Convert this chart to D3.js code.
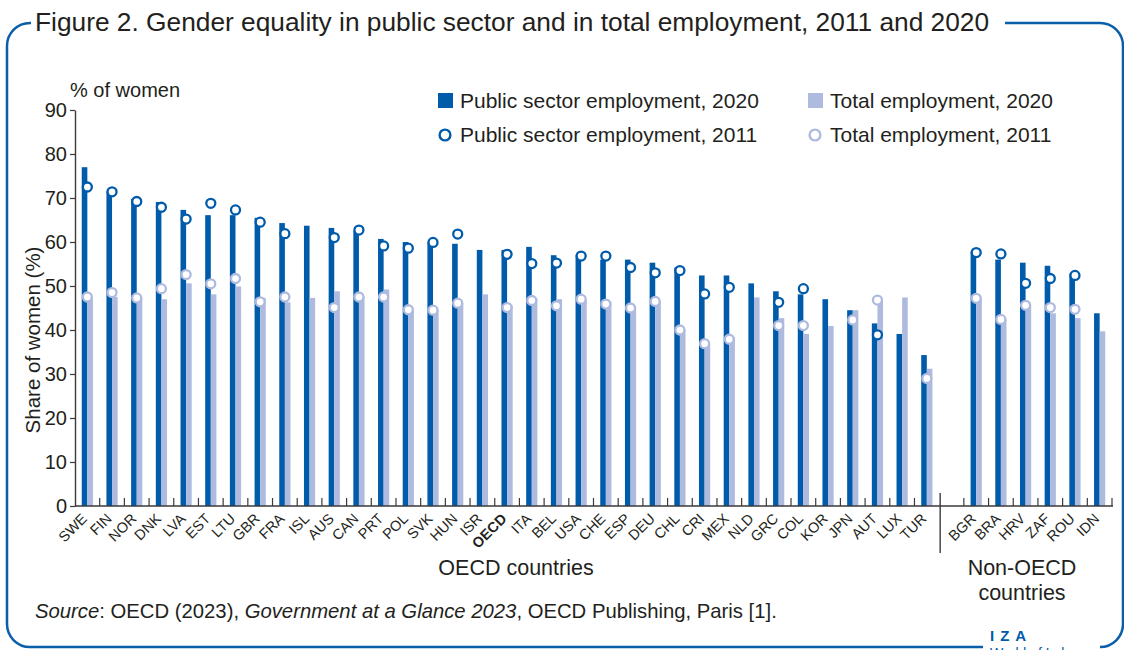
<!DOCTYPE html>
<html>
<head>
<meta charset="utf-8">
<script src="https://cdn.jsdelivr.net/npm/d3@7"></script>
<style>
  body { margin: 0; background: #ffffff; }
  svg { display: block; font-family: "Liberation Sans", Arial, sans-serif; }
</style>
</head>
<body>
<div class="chart"></div>
<script>
// DATA
const OECD_COUNTRIES = ["SWE","FIN","NOR","DNK","LVA","EST","LTU","GBR","FRA","ISL","AUS","CAN","PRT","POL","SVK","HUN","ISR","OECD","ITA","BEL","USA","CHE","ESP","DEU","CHL","CRI","MEX","NLD","GRC","COL","KOR","JPN","AUT","LUX","TUR"];
const NON_OECD_COUNTRIES = ["BGR","BRA","HRV","ZAF","ROU","IDN"];

// values follow OECD_COUNTRIES then NON_OECD_COUNTRIES
const PUBLIC_2020 = [77.0,71.5,69.8,69.1,67.3,66.1,66.1,65.5,64.3,63.7,63.2,62.5,60.7,60.0,60.0,59.6,58.2,58.2,58.9,57.0,57.0,56.0,56.0,55.3,54.2,52.4,52.4,50.6,48.8,48.1,47.0,44.5,41.5,39.1,34.3,
                     57.8,56.0,55.3,54.6,52.8,43.8];
const TOTAL_2020 = [47.3,47.5,47.3,47.0,50.6,48.1,49.9,47.3,46.3,47.3,48.8,47.6,49.2,44.6,44.5,46.1,48.1,45.5,47.2,47.0,47.0,46.3,45.0,46.5,40.0,36.9,38.4,47.4,42.7,39.1,40.9,44.5,47.0,47.4,31.2,
                    47.2,42.4,45.6,43.8,42.7,39.7];
const PUBLIC_2011 = [72.5,71.4,69.2,67.9,65.2,68.8,67.3,64.5,61.9,null,61.0,62.7,59.1,58.6,59.9,61.8,null,57.2,55.1,55.2,56.8,56.8,54.2,53.0,53.5,48.2,49.7,null,46.3,49.4,null,null,38.9,null,null,
                     57.6,57.3,50.6,51.7,52.4,null];
const TOTAL_2011 = [47.5,48.5,47.3,49.4,52.6,50.5,51.7,46.4,47.5,null,45.1,47.5,47.5,44.6,44.5,46.1,null,45.1,46.7,45.5,47.0,45.9,45.0,46.5,40.0,36.9,37.9,null,41.0,41.0,null,42.3,46.8,null,29.0,
                    47.2,42.4,45.6,45.1,44.7,null];

const Y_TICKS = [0,10,20,30,40,50,60,70,80,90];
const LEGEND_LABELS = ["Public sector employment, 2020","Total employment, 2020",
                       "Public sector employment, 2011","Total employment, 2011"];

// GLOBAL CONSTANTS
const FRAME_WIDTH = 1124;
const FRAME_HEIGHT = 650;
const AXIS = {left: 75, right: 1112, top: 110, bottom: 506};
const DARK = "#005bab";
const LIGHT = "#aebbdf";
const FRAME_BLUE = "#0b5ea9";
const INK = "#231f20";
const BAR_W = 5.6;

const ALL = OECD_COUNTRIES.concat(NON_OECD_COUNTRIES);
const rows = ALL.map((c, i) => ({
  country: c,
  pub20: PUBLIC_2020[i], tot20: TOTAL_2020[i],
  pub11: PUBLIC_2011[i], tot11: TOTAL_2011[i]
}));

const svg = d3.select(".chart")
  .append("svg")
    .attr("width", FRAME_WIDTH)
    .attr("height", FRAME_HEIGHT);

// FRAME
svg.append("rect")
  .attr("x", 7).attr("y", 23)
  .attr("width", 1116).attr("height", 624)
  .attr("rx", 23).attr("ry", 23)
  .attr("fill", "none")
  .attr("stroke", FRAME_BLUE)
  .attr("stroke-width", 2.5);

// white knock-outs for title and logo
svg.append("rect").attr("x", 31).attr("y", 8).attr("width", 974).attr("height", 30).attr("fill", "#fff");
svg.append("rect").attr("x", 983).attr("y", 626).attr("width", 117).attr("height", 26).attr("fill", "#fff");

svg.append("text")
  .attr("x", 35).attr("y", 31)
  .attr("font-size", "26.3px")
  .attr("fill", INK)
  .text("Figure 2. Gender equality in public sector and in total employment, 2011 and 2020");

// SCALES
const X_SCALE = d3.scaleBand()
  .domain(OECD_COUNTRIES.concat(["gap"], NON_OECD_COUNTRIES))
  .range([AXIS.left, AXIS.right])
  .paddingInner(0).paddingOuter(0);
const STEP = X_SCALE.bandwidth();
const cx = (c) => X_SCALE(c) + STEP / 2;

const Y_SCALE = d3.scaleLinear()
  .domain([0, 90])
  .range([AXIS.bottom, AXIS.top]);

// Y AXIS
const yAxis = svg.append("g")
  .attr("transform", "translate(" + AXIS.left + ",0)")
  .call(d3.axisLeft(Y_SCALE).tickValues(Y_TICKS).tickSize(5).tickSizeOuter(0).tickPadding(3));
yAxis.select(".domain").attr("stroke", "#3a3a3a").attr("stroke-width", 1.4);
yAxis.selectAll(".tick line").attr("stroke", "#3a3a3a").attr("stroke-width", 1.2);
yAxis.selectAll("text")
  .attr("font-size", "20px")
  .attr("font-family", "Liberation Sans, Arial, sans-serif")
  .attr("fill", INK);

svg.append("text")
  .attr("x", 70).attr("y", 97)
  .attr("font-size", "20px")
  .attr("fill", INK)
  .text("% of women");

svg.append("text")
  .attr("transform", "translate(40," + ((AXIS.top + AXIS.bottom) / 2 + 32) + ") rotate(-90)")
  .attr("text-anchor", "middle")
  .attr("font-size", "20.5px")
  .attr("fill", INK)
  .text("Share of women (%)");

// BARS
svg.selectAll(".pub20")
  .data(rows)
  .enter()
  .append("rect")
    .attr("class", "pub20")
    .attr("x", (d) => cx(d.country) - BAR_W)
    .attr("y", (d) => Y_SCALE(d.pub20))
    .attr("width", BAR_W)
    .attr("height", (d) => AXIS.bottom - Y_SCALE(d.pub20))
    .attr("fill", DARK);

svg.selectAll(".tot20")
  .data(rows)
  .enter()
  .append("rect")
    .attr("class", "tot20")
    .attr("x", (d) => cx(d.country))
    .attr("y", (d) => Y_SCALE(d.tot20))
    .attr("width", BAR_W)
    .attr("height", (d) => AXIS.bottom - Y_SCALE(d.tot20))
    .attr("fill", LIGHT);

// X AXIS
svg.append("line")
  .attr("x1", AXIS.left).attr("x2", AXIS.right + 1)
  .attr("y1", AXIS.bottom).attr("y2", AXIS.bottom)
  .attr("stroke", "#3a3a3a").attr("stroke-width", 1.4);

const tickPos = X_SCALE.domain().slice(1)
  .filter((c) => c !== "gap")
  .map((c) => X_SCALE(c))
  .concat([AXIS.right]);
svg.selectAll(".xtick")
  .data(tickPos)
  .enter()
  .append("line")
    .attr("class", "xtick")
    .attr("x1", (d) => d).attr("x2", (d) => d)
    .attr("y1", AXIS.bottom - 8).attr("y2", AXIS.bottom)
    .attr("stroke", "#3a3a3a").attr("stroke-width", 1.2);

// separator between OECD and non-OECD
svg.append("line")
  .attr("x1", X_SCALE("gap") + 1).attr("x2", X_SCALE("gap") + 1)
  .attr("y1", AXIS.bottom - 13).attr("y2", AXIS.bottom + 47)
  .attr("stroke", "#3a3a3a").attr("stroke-width", 1.4);

svg.selectAll(".xlabel")
  .data(ALL)
  .enter()
  .append("text")
    .attr("class", "xlabel")
    .attr("transform", (d) => "translate(" + (cx(d) - 3) + "," + (AXIS.bottom + 10) + ") rotate(-45)")
    .attr("text-anchor", "end")
    .attr("dy", "0.35em")
    .attr("font-size", "14.5px")
    .attr("font-weight", (d) => d === "OECD" ? "bold" : "normal")
    .attr("fill", INK)
    .text((d) => d);

// 2011 MARKERS
svg.selectAll(".tot11")
  .data(rows.filter((d) => d.tot11 !== null))
  .enter()
  .append("circle")
    .attr("class", "tot11")
    .attr("cx", (d) => cx(d.country))
    .attr("cy", (d) => Y_SCALE(d.tot11))
    .attr("r", 4.5)
    .attr("fill", "#fff")
    .attr("stroke", LIGHT)
    .attr("stroke-width", 2.3);

svg.selectAll(".pub11")
  .data(rows.filter((d) => d.pub11 !== null))
  .enter()
  .append("circle")
    .attr("class", "pub11")
    .attr("cx", (d) => cx(d.country))
    .attr("cy", (d) => Y_SCALE(d.pub11))
    .attr("r", 4.5)
    .attr("fill", "#fff")
    .attr("stroke", DARK)
    .attr("stroke-width", 2.3);

// GROUP LABELS
svg.append("text")
  .attr("x", 516).attr("y", 575)
  .attr("text-anchor", "middle")
  .attr("font-size", "21.5px").attr("fill", INK)
  .text("OECD countries");

svg.append("text")
  .attr("x", 1022).attr("y", 575)
  .attr("text-anchor", "middle")
  .attr("font-size", "21.5px").attr("fill", INK)
  .text("Non-OECD");
svg.append("text")
  .attr("x", 1022).attr("y", 600)
  .attr("text-anchor", "middle")
  .attr("font-size", "21.5px").attr("fill", INK)
  .text("countries");

// LEGEND
const legend = svg.append("g");
const legendCols = [438, 808];
const legendRows = [108, 142];
LEGEND_LABELS.forEach((label, i) => {
  const lx = legendCols[i % 2];
  const ly = legendRows[Math.floor(i / 2)];
  const color = (i % 2 === 0) ? DARK : LIGHT;
  if (i < 2) {
    legend.append("rect")
      .attr("x", lx).attr("y", ly - 15)
      .attr("width", 15).attr("height", 15)
      .attr("fill", color);
  } else {
    legend.append("circle")
      .attr("cx", lx + 7).attr("cy", ly - 7)
      .attr("r", 5.4)
      .attr("fill", "#fff")
      .attr("stroke", color)
      .attr("stroke-width", 2.4);
  }
  legend.append("text")
    .attr("x", lx + 22).attr("y", ly)
    .attr("font-size", "21px").attr("fill", INK)
    .text(label);
});

// SOURCE
const src = svg.append("text")
  .attr("x", 35).attr("y", 618)
  .attr("font-size", "20.3px").attr("fill", INK);
src.append("tspan").attr("font-style", "italic").text("Source");
src.append("tspan").text(": OECD (2023), ");
src.append("tspan").attr("font-style", "italic").text("Government at a Glance 2023");
src.append("tspan").text(", OECD Publishing, Paris [1].");

// LOGO
svg.append("text")
  .attr("x", 990).attr("y", 641)
  .attr("font-size", "15px").attr("font-weight", "bold")
  .attr("letter-spacing", "6px")
  .attr("fill", DARK)
  .text("IZA");
svg.append("text")
  .attr("x", 990).attr("y", 658)
  .attr("font-size", "14px")
  .attr("fill", DARK)
  .text("World of Labor");
</script>
</body>
</html>
